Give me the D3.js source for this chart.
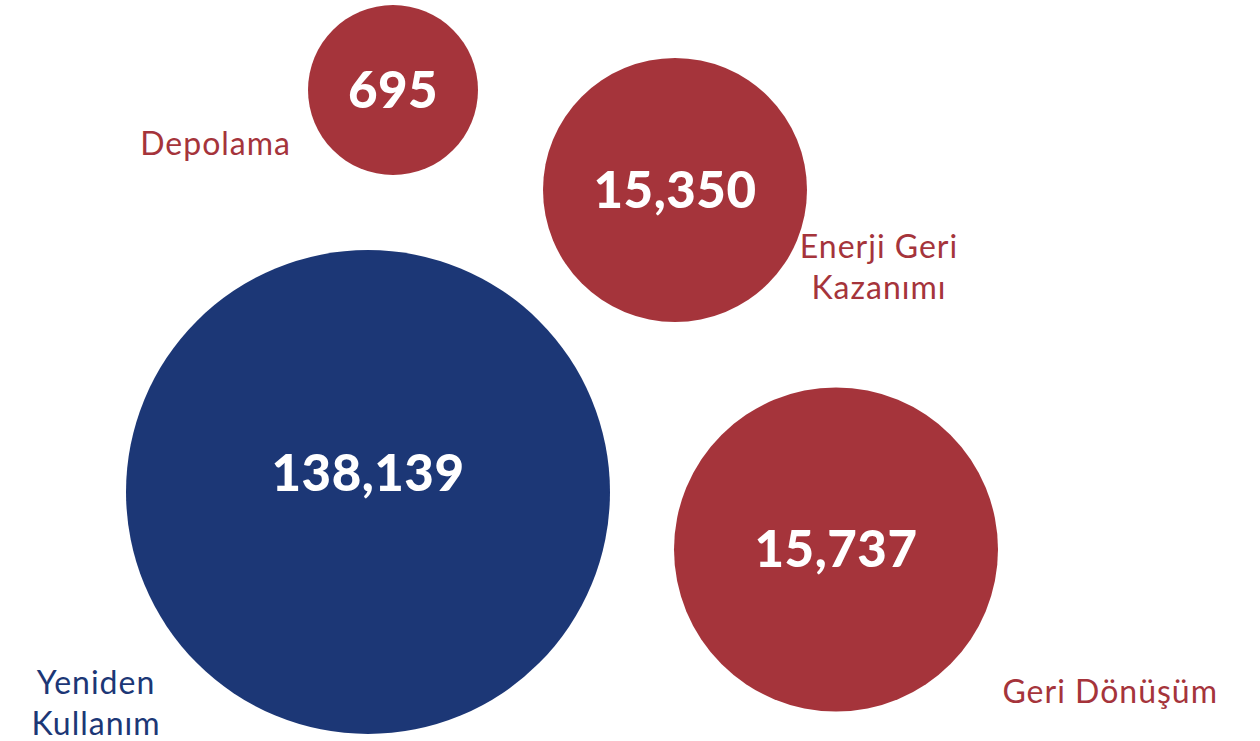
<!DOCTYPE html>
<html>
<head>
<meta charset="utf-8">
<script src="https://cdn.jsdelivr.net/npm/d3@7"></script>
<style>
  html, body { margin: 0; padding: 0; background: #ffffff; }
  svg { display: block; }
</style>
</head>
<body>
<svg id="chart" width="1260" height="741"></svg>
<script>
// ---- data ----
const categories = ["Depolama", "Enerji Geri Kazanımı", "Yeniden Kullanım", "Geri Dönüşüm"];
const values = [695, 15350, 138139, 15737];
const labelLines = [["Depolama"], ["Enerji Geri", "Kazanımı"], ["Yeniden", "Kullanım"], ["Geri Dönüşüm"]];
const groups = ["red", "red", "blue", "red"];

// ---- layout ----
const W = 1260, H = 741;
const svg = d3.select("#chart");

const rScale = d3.scaleLinear()
  .domain([695, 15350, 15737, 138139])
  .range([85, 132, 162, 242]);
const cxScale = d3.scaleOrdinal().domain(categories).range([393, 675, 368, 836]);
const cyScale = d3.scaleOrdinal().domain(categories).range([90, 190, 492, 549.5]);
const color = d3.scaleOrdinal().domain(["red", "blue"]).range(["#a5343b", "#1c3776"]);

// label anchor: [x, firstBaseline, anchor]
const labelPos = d3.scaleOrdinal().domain(categories).range([
  [291, 155, "end"],
  [879, 258, "middle"],
  [96, 694, "middle"],
  [1218, 703, "end"]
]);
const lineH = 41;

const data = categories.map((c, i) => ({ cat: c, value: values[i], lines: labelLines[i], group: groups[i] }));
const fmt = d3.format(",");

const g = svg.append("g");

g.selectAll("circle.bubble")
  .data(data)
  .join("circle")
  .attr("class", "bubble")
  .attr("cx", d => cxScale(d.cat))
  .attr("cy", d => cyScale(d.cat))
  .attr("r", d => rScale(d.value))
  .attr("fill", d => color(d.group));

g.selectAll("text.value")
  .data(data)
  .join("text")
  .attr("class", "value")
  .attr("x", d => cxScale(d.cat))
  .attr("y", d => cyScale(d.cat) - (d.group === "blue" ? 19 : 0))
  .attr("dy", "0.35em")
  .attr("text-anchor", "middle")
  .attr("fill", "#ffffff")
  .style("font-family", "Lato, 'Open Sans', sans-serif")
  .style("font-weight", 900)
  .style("font-size", "51px")
  .style("letter-spacing", "0.5px")
  .text(d => fmt(d.value));

const lbl = g.selectAll("text.label")
  .data(data)
  .join("text")
  .attr("class", "label")
  .attr("text-anchor", d => labelPos(d.cat)[2])
  .attr("fill", d => color(d.group))
  .style("font-family", "Lato, 'Open Sans', sans-serif")
  .style("font-weight", 400)
  .style("font-size", "32px")
  .style("letter-spacing", "1px");

lbl.selectAll("tspan")
  .data(d => d.lines.map((l, j) => ({ l, j, p: labelPos(d.cat) })))
  .join("tspan")
  .attr("x", t => t.p[0])
  .attr("y", t => t.p[1] + t.j * lineH)
  .text(t => t.l);
</script>
</body>
</html>
